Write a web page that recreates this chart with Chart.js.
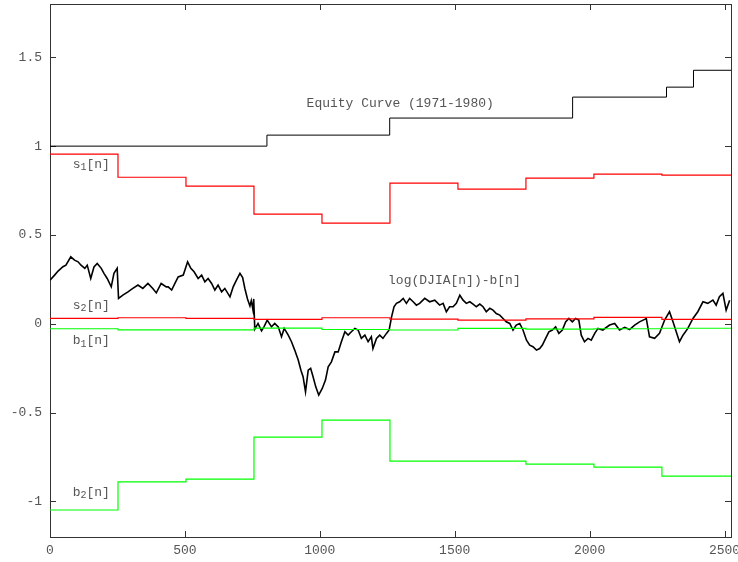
<!DOCTYPE html>
<html>
<head>
<meta charset="utf-8">
<script src="https://cdn.jsdelivr.net/npm/chart.js@4/dist/chart.umd.min.js"></script>
<style>
  html, body { margin: 0; padding: 0; background: #fff; }
  #wrap { width: 738px; height: 562px; position: relative; }
</style>
</head>
<body>
<div id="wrap"><canvas id="my-chart"></canvas></div>
<script>
'use strict';

// ******* DATA *********
// yearly step edges (trading days)
let stepEdges = [0, 252, 504, 756, 1008, 1260, 1512, 1764, 2016, 2268, 2524];
let s1 = [0.955, 0.825, 0.775, 0.617, 0.567, 0.792, 0.758, 0.820, 0.842, 0.837];
let s2 = [0.030, 0.034, 0.030, 0.025, 0.034, 0.026, 0.021, 0.028, 0.036, 0.025];
let b1 = [-0.028, -0.034, -0.034, -0.024, -0.032, -0.035, -0.026, -0.030, -0.028, -0.025];
let b2 = [-1.048, -0.890, -0.874, -0.638, -0.542, -0.773, -0.773, -0.790, -0.807, -0.857];

// equity curve steps
let equityEdges = [0, 804, 1259, 1937, 2285, 2385, 2524];
let equityVals = [1.0, 1.062, 1.158, 1.276, 1.332, 1.427];

// log(DJIA[n]) - b[n]
let djiaDay = [0, 17, 30, 48, 59, 77, 91, 104, 115, 129, 138, 151, 163, 175, 190, 200, 212, 227, 237, 249,
  254, 270, 289, 307, 326, 344, 363, 381, 394, 412, 431, 438, 451, 463, 475, 494, 510, 522, 534, 549,
  562, 574, 586, 599, 611, 623, 636, 648, 667, 679, 691, 704, 714, 722, 732, 741, 746, 752, 755, 759,
  771, 784, 793, 805, 821, 833, 846, 858, 868, 883, 895, 907, 920, 930, 938, 947, 957, 966, 975, 985,
  996, 1009, 1021, 1031, 1043, 1056, 1068, 1080, 1093, 1105, 1117, 1130, 1142, 1154, 1167, 1179, 1191, 1197, 1210, 1222,
  1234, 1247, 1257, 1266, 1275, 1284, 1296, 1309, 1321, 1333, 1346, 1358, 1370, 1389, 1407, 1426, 1444, 1457, 1469, 1481,
  1494, 1506, 1519, 1531, 1543, 1556, 1568, 1580, 1593, 1605, 1617, 1630, 1642, 1654, 1667, 1679, 1691, 1704, 1716, 1728,
  1741, 1753, 1766, 1778, 1790, 1803, 1815, 1825, 1837, 1849, 1862, 1874, 1886, 1899, 1911, 1923, 1936, 1948, 1960, 1969,
  1981, 1994, 2006, 2019, 2031, 2049, 2074, 2093, 2111, 2130, 2148, 2167, 2185, 2204, 2210, 2222, 2241, 2259, 2278, 2296,
  2309, 2321, 2333, 2346, 2364, 2383, 2401, 2420, 2438, 2457, 2469, 2481, 2494, 2506, 2519];
let djiaVal = [0.246, 0.274, 0.297, 0.321, 0.330, 0.377, 0.358, 0.349, 0.330, 0.312, 0.330, 0.255, 0.320, 0.340, 0.312, 0.284, 0.255, 0.208, 0.284, 0.312,
  0.143, 0.161, 0.180, 0.199, 0.218, 0.199, 0.227, 0.199, 0.174, 0.227, 0.208, 0.208, 0.190, 0.227, 0.264, 0.274, 0.349, 0.312, 0.293, 0.255,
  0.274, 0.236, 0.255, 0.227, 0.190, 0.218, 0.180, 0.199, 0.152, 0.208, 0.246, 0.284, 0.260, 0.200, 0.140, 0.100, 0.130, 0.080, 0.140, -0.030,
  0.002, -0.040, -0.017, 0.021, -0.017, 0.002, -0.017, -0.073, -0.026, -0.064, -0.101, -0.148, -0.204, -0.261, -0.298, -0.383, -0.261, -0.251, -0.298, -0.355,
  -0.401, -0.364, -0.317, -0.242, -0.214, -0.158, -0.158, -0.101, -0.045, -0.064, -0.045, -0.026, -0.035, -0.082, -0.064, -0.101, -0.073, -0.139, -0.082, -0.064,
  -0.082, -0.054, -0.035, 0.039, 0.096, 0.115, 0.124, 0.143, 0.115, 0.143, 0.124, 0.105, 0.115, 0.143, 0.124, 0.133, 0.105, 0.115, 0.068, 0.096,
  0.096, 0.115, 0.161, 0.133, 0.115, 0.124, 0.111, 0.096, 0.111, 0.096, 0.068, 0.087, 0.077, 0.058, 0.049, 0.030, 0.011, 0.002, -0.035, -0.007,
  0.002, -0.035, -0.092, -0.120, -0.129, -0.148, -0.139, -0.120, -0.082, -0.045, -0.035, -0.017, -0.054, -0.035, 0.011, 0.030, 0.011, 0.030, 0.021, -0.064,
  -0.101, -0.082, -0.092, -0.054, -0.026, -0.035, -0.007, 0.002, -0.035, -0.020, -0.032, -0.007, 0.011, 0.025, 0.030, -0.073, -0.082, -0.054, 0.021, 0.068,
  0.011, -0.045, -0.101, -0.064, -0.026, 0.030, 0.068, 0.124, 0.115, 0.133, 0.105, 0.152, 0.171, 0.077, 0.133];

// tick labels
let xTicks = [0, 500, 1000, 1500, 2000, 2500];
let yTicks = [-1, -0.5, 0, 0.5, 1, 1.5];

// curve labels: [main, subscript, rest, x, y]
let curveLabels = [
  ['Equity Curve (1971-1980)', '', '', 951, 1.242],
  ['s', '1', '[n]', 84, 0.899],
  ['s', '2', '[n]', 84, 0.105],
  ['b', '1', '[n]', 84, -0.097],
  ['b', '2', '[n]', 84, -0.951],
  ['log(DJIA[n])-b[n]', '', '', 1253, 0.242]
];

// ******* HELPERS *******
// 'before' stepping: segment [x_i, x_i+1] keeps y_i
function stepPoints(edges, vals) {
  let pts = [];
  for (let i = 0; i < edges.length; i++) {
    pts.push({ x: edges[i], y: vals[Math.min(i, vals.length - 1)] });
  }
  return pts;
}

function linePoints(days, vals) {
  return days.map((d, i) => ({ x: d, y: vals[i] }));
}

const MONO = '"Liberation Mono", "DejaVu Sans Mono", monospace';
const TEXT_COLOR = '#555';

// frame + mirrored inward ticks, gnuplot style
let framePlugin = {
  id: 'frame',
  beforeDatasetsDraw(chart) {
    let c = chart.ctx;
    let a = chart.chartArea;
    let xs = chart.scales.x;
    let ys = chart.scales.y;
    c.save();
    c.strokeStyle = '#333';
    c.lineWidth = 1;
    c.beginPath();
    xTicks.forEach(v => {
      let px = Math.round(xs.getPixelForValue(v)) + 0.5;
      c.moveTo(px, a.bottom); c.lineTo(px, a.bottom - 6);
      c.moveTo(px, a.top); c.lineTo(px, a.top + 6);
    });
    yTicks.forEach(v => {
      let py = Math.round(ys.getPixelForValue(v)) + 0.5;
      c.moveTo(a.left, py); c.lineTo(a.left + 6, py);
      c.moveTo(a.right, py); c.lineTo(a.right - 6, py);
    });
    c.stroke();
    c.strokeRect(Math.round(a.left) + 0.5, Math.round(a.top) + 0.5,
      Math.round(a.right - a.left), Math.round(a.bottom - a.top));
    c.restore();
  },
  afterDraw(chart) {
    let c = chart.ctx;
    let xs = chart.scales.x;
    let ys = chart.scales.y;
    c.save();
    c.fillStyle = TEXT_COLOR;
    c.textBaseline = 'middle';
    c.textAlign = 'left';
    curveLabels.forEach(l => {
      let px = xs.getPixelForValue(l[3]);
      let py = ys.getPixelForValue(l[4]);
      c.font = '13px ' + MONO;
      c.fillText(l[0], px, py);
      px += c.measureText(l[0]).width;
      if (l[1]) {
        c.font = '10px ' + MONO;
        c.fillText(l[1], px, py + 3);
        px += c.measureText(l[1]).width;
        c.font = '13px ' + MONO;
        c.fillText(l[2], px, py);
      }
    });
    c.restore();
  }
};

// ******* CHART *******
let ctx = document.getElementById('my-chart');

let chartObj = {
  type: 'line',
  data: {
    datasets: [
      { label: 'equity', data: stepPoints(equityEdges, equityVals), stepped: 'before', borderColor: '#000', borderWidth: 1 },
      { label: 's1', data: stepPoints(stepEdges, s1), stepped: 'before', borderColor: '#ff0000', borderWidth: 1.2 },
      { label: 's2', data: stepPoints(stepEdges, s2), stepped: 'before', borderColor: '#ff0000', borderWidth: 1.2 },
      { label: 'b1', data: stepPoints(stepEdges, b1), stepped: 'before', borderColor: '#00ff00', borderWidth: 1.2 },
      { label: 'b2', data: stepPoints(stepEdges, b2), stepped: 'before', borderColor: '#00ff00', borderWidth: 1.2 },
      { label: 'djia', data: linePoints(djiaDay, djiaVal), borderColor: '#000', borderWidth: 1.6 }
    ]
  },
  options: {
    responsive: true,
    maintainAspectRatio: false,
    animation: false,
    events: [],
    elements: { point: { radius: 0 }, line: { tension: 0, fill: false } },
    layout: { padding: { top: 4, right: 7, left: 0, bottom: 0 } },
    plugins: { legend: { display: false }, tooltip: { enabled: false } },
    scales: {
      x: {
        type: 'linear',
        min: 0,
        max: 2524,
        grid: { display: false, drawTicks: false },
        border: { display: false },
        afterBuildTicks: s => { s.ticks = xTicks.map(v => ({ value: v })); },
        afterFit: s => { s.height = 25; s.paddingLeft = 0; s.paddingRight = 0; },
        ticks: { color: TEXT_COLOR, font: { family: MONO, size: 13 }, padding: 6, maxRotation: 0, autoSkip: false,
          callback: v => String(v) }
      },
      y: {
        type: 'linear',
        min: -1.2,
        max: 1.8,
        grid: { display: false, drawTicks: false },
        border: { display: false },
        afterBuildTicks: s => { s.ticks = yTicks.map(v => ({ value: v })); },
        afterFit: s => { s.width = 50; s.paddingTop = 0; s.paddingBottom = 0; },
        ticks: { color: TEXT_COLOR, font: { family: MONO, size: 13 }, padding: 8, autoSkip: false,
          callback: v => String(v) }
      }
    }
  },
  plugins: [framePlugin]
};

new Chart(ctx, chartObj); //eslint-disable-line
</script>
</body>
</html>
